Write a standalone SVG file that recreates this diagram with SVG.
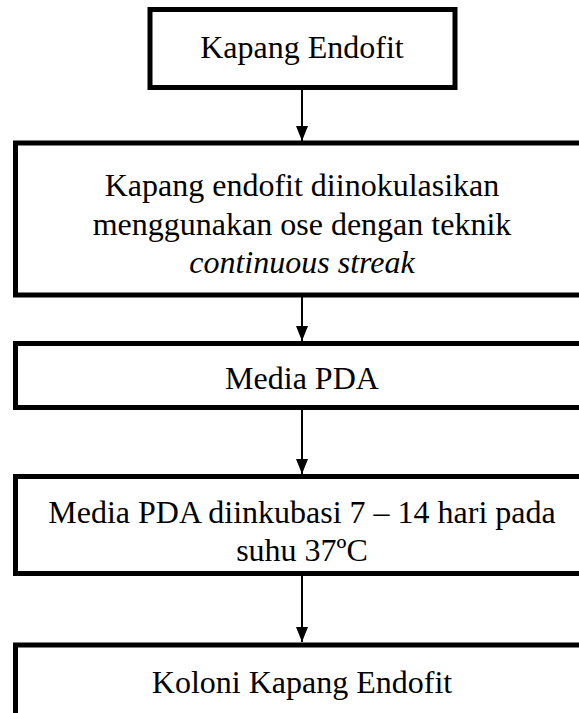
<svg xmlns="http://www.w3.org/2000/svg" width="579" height="713" viewBox="0 0 579 713">
<style>
.box{fill:#fff;stroke:#000;stroke-width:5}
.t{font-family:"Liberation Serif","Times New Roman",serif;font-size:32px;fill:#000;text-anchor:middle}
.i{font-style:italic}
.c{stroke:#000;stroke-width:2;fill:none}
</style>
<defs>
<marker id="ah" markerUnits="userSpaceOnUse" markerWidth="16" markerHeight="14" refX="15" refY="7" orient="auto" viewBox="0 0 16 14">
<path d="M0,1 L15,7 L0,13 Z" fill="#000"/>
</marker>
</defs>
<rect width="579" height="713" fill="#fff"/>
<g id="connectors">
<line class="c" x1="302" y1="90" x2="302" y2="141" marker-end="url(#ah)"/>
<line class="c" x1="302" y1="297" x2="302" y2="341" marker-end="url(#ah)"/>
<line class="c" x1="302" y1="409" x2="302" y2="474" marker-end="url(#ah)"/>
<line class="c" x1="302" y1="575" x2="302" y2="642" marker-end="url(#ah)"/>
</g>
<g id="n1">
<rect class="box" x="150" y="9.5" width="305" height="78"/>
<text class="t" x="302" y="58">Kapang Endofit</text>
</g>
<g id="n2">
<rect class="box" x="15.5" y="143" width="574" height="152"/>
<text class="t" x="302" y="196">Kapang endofit diinokulasikan</text>
<text class="t" x="302" y="234.5">menggunakan ose dengan teknik</text>
<text class="t i" x="302" y="273">continuous streak</text>
</g>
<g id="n3">
<rect class="box" x="15.5" y="343.5" width="574" height="64"/>
<text class="t" x="302" y="389">Media PDA</text>
</g>
<g id="n4">
<rect class="box" x="15.5" y="476.5" width="574" height="97"/>
<text class="t" x="302" y="523">Media PDA diinkubasi 7 – 14 hari pada</text>
<text class="t" x="302" y="561">suhu 37ºC</text>
</g>
<g id="n5">
<rect class="box" x="15.5" y="645" width="574" height="90"/>
<text class="t" x="302" y="693">Koloni Kapang Endofit</text>
</g>
</svg>
